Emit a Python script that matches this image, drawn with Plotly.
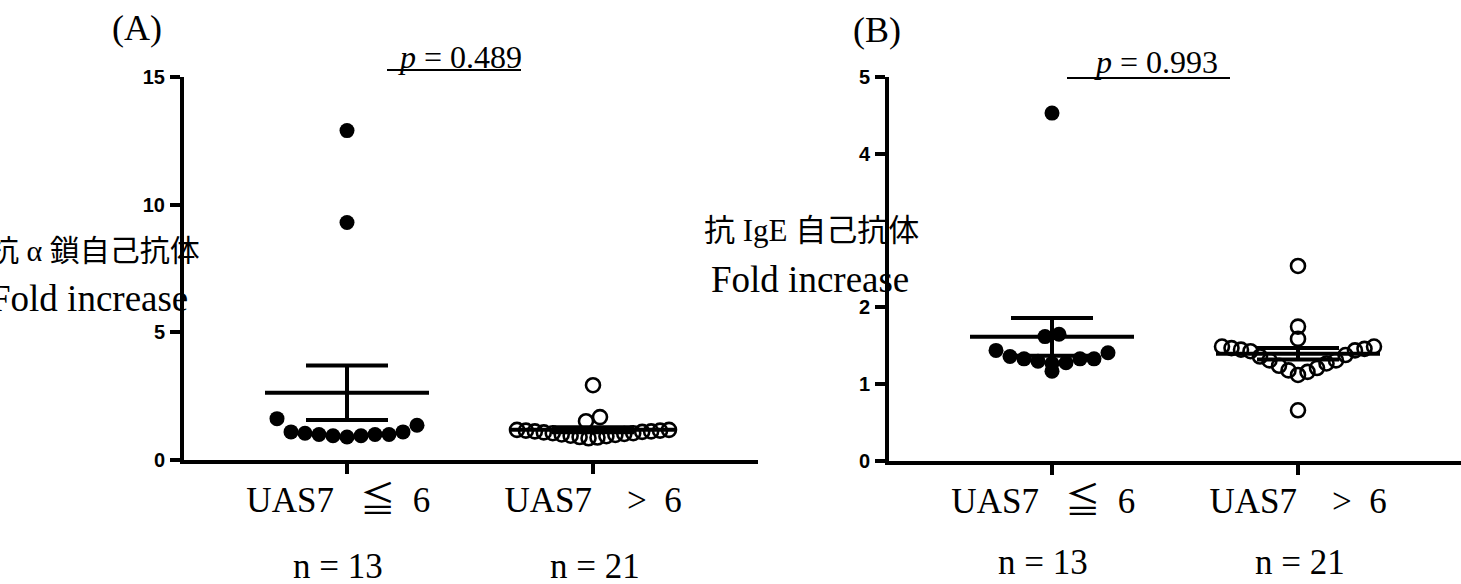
import numpy as np
import plotly.graph_objects as go

# ---------------- data ----------------
groups = ["UAS7\u00a0\u00a0\u00a0≦\u00a0\u00a06\u00a0\u00a0", "UAS7\u00a0\u00a0\u00a0\u00a0>\u00a0\u00a06"]

# (A) anti-alpha-chain autoantibody, fold increase
a_low = [12.9, 9.3, 1.62, 1.10, 1.05, 1.00, 0.95, 0.90, 0.95, 1.00, 1.00, 1.10, 1.36]
a_high = [2.93, 1.52, 1.68, 1.18, 1.15, 1.12, 1.10, 1.05, 1.02, 0.98, 0.93, 0.88,
          0.85, 0.90, 0.95, 1.00, 1.05, 1.08, 1.12, 1.15, 1.18]

# (B) anti-IgE autoantibody, fold increase
b_low = [4.53, 1.65, 1.62, 1.41, 1.44, 1.33, 1.33, 1.30, 1.27, 1.28, 1.33, 1.36, 1.17]
b_high = [2.54, 1.75, 1.59, 0.66, 1.47, 1.45, 1.49, 1.44, 1.38, 1.31, 1.27, 1.21,
          1.16, 1.12, 1.18, 1.24, 1.31, 1.36, 1.49, 1.46, 1.43]

p_values = [0.489, 0.993]
panel_tags = ["(A)", "(B)"]
y_titles = ["抗 α 鎖自己抗体", "抗 IgE 自己抗体"]
y_ticks = [[0, 5, 10, 15], [0, 1, 2, 4, 5]]
y_max = [15, 5]

# ---------------- layout constants (pixels) ----------------
FIG_W, FIG_H = 1461, 584
frames = [(184, 758, 77, 460), (889, 1461, 77, 461)]      # left, right, top, bottom
cat_px = [(347, 593), (1052, 1298)]                        # pixel centre of each group
SERIF = "Liberation Serif, 'Times New Roman', serif"
CJK = "Liberation Serif, 'Noto Sans CJK JP', serif"


def px_x(px):
    return px / FIG_W


def px_y(py):
    return 1 - py / FIG_H


def dot_rows(values, ppu, gap_px, spacing, max_half):
    """Scatter-dot offsets (pixels): values closer than gap_px share a row,
    spread centre-out in ascending order."""
    v = np.asarray(values, float)
    order = list(np.argsort(v, kind="stable"))
    rows, cur = [], [order[0]]
    for a, b in zip(order[:-1], order[1:]):
        if (v[b] - v[a]) * ppu > gap_px:
            rows.append(cur)
            cur = [b]
        else:
            cur.append(b)
    rows.append(cur)
    xs = np.zeros(len(v))
    for row in rows:
        n = len(row)
        s = spacing if n == 1 else min(spacing, 2 * max_half / (n - 1))
        for j, idx in enumerate(row):
            if n % 2:
                slot = 0 if j == 0 else (1 if j % 2 else -1) * ((j + 1) // 2)
            else:
                slot = (-1 if j % 2 == 0 else 1) * (j // 2 + 0.5)
            xs[idx] = slot * s
    return xs


fig = go.Figure()
annotations = []
shapes = []

for k, (low, high) in enumerate([(a_low, a_high), (b_low, b_high)]):
    xa = "x" if k == 0 else "x2"
    ya = "y" if k == 0 else "y2"
    left, right, top, bottom = frames[k]
    c0, c1 = cat_px[k]
    unit = c1 - c0
    ppu = (bottom - top) / y_max[k]

    for g, vals in enumerate([low, high]):
        vals = np.asarray(vals, float)
        offs = dot_rows(vals, ppu, 7.0, 14, 76) / unit
        if g == 0:
            marker = dict(symbol="circle", size=15, color="black")
        else:
            marker = dict(symbol="circle-open", size=14, color="black", line=dict(width=2.6))
        fig.add_trace(go.Scatter(x=g + offs, y=vals, mode="markers", marker=marker,
                                 xaxis=xa, yaxis=ya, showlegend=False, hoverinfo="y"))

        mean = vals.mean()
        sem = vals.std(ddof=1) / np.sqrt(len(vals))
        half = 82 / unit
        fig.add_trace(go.Scatter(x=[g - half, g + half], y=[mean, mean], mode="lines",
                                 line=dict(color="black", width=4),
                                 xaxis=xa, yaxis=ya, showlegend=False, hoverinfo="skip"))
        fig.add_trace(go.Scatter(x=[g], y=[mean], mode="markers", marker=dict(size=1, color="black"),
                                 error_y=dict(type="data", array=[sem], thickness=4, width=41, color="black"),
                                 xaxis=xa, yaxis=ya, showlegend=False, hoverinfo="skip"))

        annotations.append(dict(x=g, y=px_y(566 if k == 0 else 562), xref=xa, yref="paper",
                                xanchor="center", yanchor="middle",
                                text=f"n = {len(vals)}", showarrow=False,
                                xshift=-9 if g == 0 else 2,
                                font=dict(family=SERIF, size=35, color="black")))

    ax = dict(domain=[px_x(left), px_x(right)],
              range=[(left - c0) / unit, 1 + (right - c1) / unit],
              tickmode="array", tickvals=[0, 1], ticktext=groups,
              ticks="outside", ticklen=10, tickwidth=3.5, tickcolor="black",
              showline=True, linewidth=4, linecolor="black",
              showgrid=False, zeroline=False, fixedrange=True, automargin=False,
              tickfont=dict(family=CJK, size=35, color="black"),
              ticklabelstandoff=-4, anchor=ya)
    ay = dict(domain=[px_y(bottom), px_y(top)], range=[0, y_max[k]],
              tickmode="array", tickvals=y_ticks[k],
              ticks="outside", ticklen=10, tickwidth=3.5, tickcolor="black",
              showline=True, linewidth=4, linecolor="black",
              showgrid=False, zeroline=False, fixedrange=True, automargin=False,
              tickfont=dict(family="Liberation Sans, Arial, sans-serif", size=20,
                            color="black", weight="bold"),
              ticklabelstandoff=1, anchor=xa)
    if k == 0:
        fig.update_layout(xaxis=ax, yaxis=ay)
    else:
        fig.update_layout(xaxis2=ax, yaxis2=ay)

# panel tags, p-values and y-axis titles
tag_pos = [(137, 28), (877, 30)]
p_pos = [(460, 57), (1156, 62)]
p_line = [(387, 521, 70), (1067, 1230, 78)]
title_pos = [((94, 250), (89, 298)), ((811, 230), (810, 279))]
title_size = [30, 31]

for k in range(2):
    annotations.append(dict(x=px_x(tag_pos[k][0]), y=px_y(tag_pos[k][1]), xref="paper", yref="paper",
                            xanchor="center", yanchor="middle",
                            text=panel_tags[k], showarrow=False,
                            font=dict(family=SERIF, size=36, color="black")))
    annotations.append(dict(x=px_x(p_pos[k][0]), y=px_y(p_pos[k][1]), xref="paper", yref="paper",
                            xanchor="center", yanchor="middle",
                            text=f"<i>p</i> = {p_values[k]:.3f}", showarrow=False,
                            font=dict(family=SERIF, size=32, color="black")))
    x0, x1, yl = p_line[k]
    shapes.append(dict(type="line", xref="paper", yref="paper",
                       x0=px_x(x0), x1=px_x(x1), y0=px_y(yl), y1=px_y(yl),
                       line=dict(color="black", width=2)))
    (tx1, ty1), (tx2, ty2) = title_pos[k]
    annotations.append(dict(x=px_x(tx1), y=px_y(ty1), xref="paper", yref="paper",
                            xanchor="center", yanchor="middle",
                            text=y_titles[k], showarrow=False,
                            font=dict(family=CJK, size=title_size[k], color="black")))
    annotations.append(dict(x=px_x(tx2), y=px_y(ty2), xref="paper", yref="paper",
                            xanchor="center", yanchor="middle",
                            text="Fold increase", showarrow=False,
                            font=dict(family=SERIF, size=37, color="black")))

fig.update_layout(width=FIG_W, height=FIG_H, margin=dict(l=0, r=0, t=0, b=0, autoexpand=False),
                  paper_bgcolor="white", plot_bgcolor="white",
                  annotations=annotations, shapes=shapes, showlegend=False)

fig.write_html("out.html", config={"displayModeBar": False},
               post_script="document.body.style.margin='0';")
